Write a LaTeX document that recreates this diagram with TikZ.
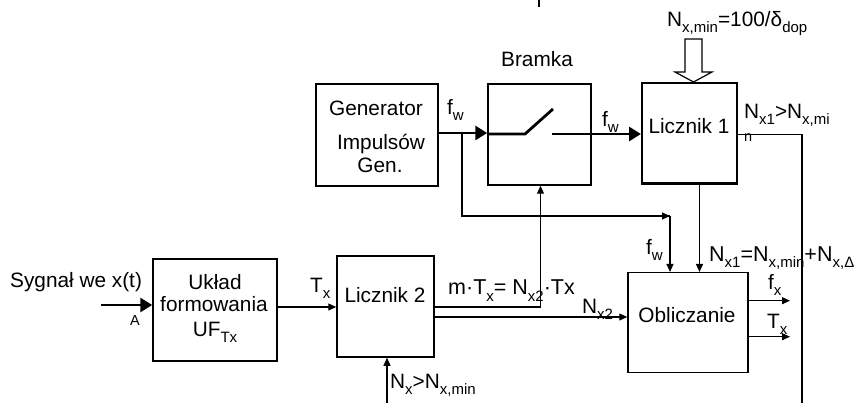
\documentclass[tikz,border=0pt]{standalone}
\usepackage{fontspec}
\setmainfont{Liberation Sans}
\usetikzlibrary{arrows.meta}
\newcommand{\sbx}[1]{\raisebox{-6pt}{\fontsize{15}{15}\selectfont #1}}
\begin{document}
\begin{tikzpicture}[x=1pt,y=-1pt,
  box/.style={draw,line width=1.5pt,rectangle,inner sep=0pt},
  txt/.style={inner sep=0pt,font=\fontsize{20.8}{22}\selectfont},
  stxt/.style={inner sep=0pt,font=\fontsize{14.5}{15}\selectfont},
  conn/.style={line width=1.1pt},
  tarr/.style={conn,-{Triangle[length=8pt,width=7pt]}},
  thk/.style={line width=2.8pt},
  bigarr/.style={thk,-{Triangle[length=12pt,width=14pt]}}]
\fill[white] (0,0) rectangle (862,403);
\useasboundingbox (0,0) rectangle (862,403);

% boxes
\node[box,minimum width=122pt,minimum height=102pt] (gen) at (377,135) {};
\node[box,minimum width=103pt,minimum height=101pt] (bram) at (539.5,134.5) {};
\node[box,line width=2pt,minimum width=95pt,minimum height=100pt] (l1) at (689.5,133) {};
\draw[line width=3pt] (l1.south west) -- (l1.south east);
\node[box,minimum width=124pt,minimum height=102pt] (ukl) at (215,310) {};
\node[box,minimum width=97pt,minimum height=101pt] (l2) at (385.5,306.5) {};
\node[box,minimum width=120pt,minimum height=100pt] (obl) at (688,322.7) {};

% box texts
\node[txt,anchor=base] (tgen1) at (376,116) {Generator};
\node[txt,anchor=base] (tgen2) at (381,150) {Impulsów};
\node[txt,anchor=base] (tgen3) at (380,172.5) {Gen.};
\node[txt,anchor=base] (tl1) at (689,134) {Licznik 1};
\node[txt,anchor=base] (tobl) at (687,323) {Obliczanie};
\node[txt,anchor=base] (tl2) at (385,303) {Licznik 2};
\node[txt,anchor=base] (tukl1) at (215,290) {Układ};
\node[txt,anchor=base] (tukl2) at (214,311.7) {formowania};
\node[txt,anchor=base] (tukl3) at (215,336) {UF\sbx{Tx}};

% labels
\node[txt,anchor=base] (lbram) at (537,67) {Bramka};
\node[txt,anchor=base west] (ltop) at (667,27) {N\sbx{x,min}=100/δ\sbx{dop}};
\node[txt,anchor=base west] (lfw1) at (447,115) {f\sbx{w}};
\node[txt,anchor=base west] (lfw2) at (602,127) {f\sbx{w}};
\node[txt,anchor=base west] (lnx1) at (744,118.3) {N\sbx{x1}>N\sbx{x,mi}};
\node[stxt,anchor=base west] (ln) at (744,142) {n};
\node[txt,anchor=base west] (lfw3) at (646,255) {f\sbx{w}};
\node[txt,anchor=base west,font=\fontsize{21.5}{22}\selectfont] (lnx1b) at (709,261.7) {N\sbx{x1}=N\sbx{x,min}+N\sbx{x,Δ}};
\node[txt,anchor=base west] (lfx) at (768,290) {f\sbx{x}};
\node[txt,anchor=base west] (ltx2) at (767,328) {T\sbx{x}};
\node[txt,anchor=base west,font=\fontsize{21.5}{22}\selectfont] (lm) at (448,295) {m·T\sbx{x}= N\sbx{x2}·Tx};
\node[txt,anchor=base west] (lnx2) at (582,313) {N\sbx{x2}};
\node[txt,anchor=base west] (lnxmin) at (390,388) {N\sbx{x}>N\sbx{x,min}};
\node[txt,anchor=base west] (ltx) at (310,293) {T\sbx{x}};
\node[txt,anchor=base west] (lsyg) at (10,288) {Sygnał we x(t)};
\node[stxt,anchor=base west] (la) at (130,325) {A};

% coordinates
\coordinate (fwy) at (0,133);
\coordinate (jn) at (462,133);
\coordinate (jd) at (462,216);
\coordinate (cr) at (670,216);
\coordinate (sw1) at (525,134);
\coordinate (sw2) at (553,109);
\coordinate (sw3) at (552,134);
\coordinate (rv) at (802,134.3);
\coordinate (rvb) at (802,403);
\coordinate (inA) at (101,305);
\coordinate (l2in) at (387,403);
\coordinate (bv) at (540.5,307);
\coordinate (mk1) at (539,0);
\coordinate (mk2) at (539,7);

% top fragment
\draw[line width=1.2pt] (mk1) -- (mk2);

% generator -> bramka
\draw[bigarr] (gen.east |- fwy) -- (bram.west |- fwy);
\draw[thk] (bram.west |- sw1) -- (sw1) -- (sw2);
\draw[bigarr] (sw3) -- (l1.west |- sw3);

% hollow arrow into Licznik 1
\draw[line width=1.2pt,fill=white] (685,39) -- (702,39) -- (702,72) -- (712,72) -- (693.5,82) -- (675,72) -- (685,72) -- cycle;

% fw branch
\draw[conn] (jn) -- (jd) -- (cr);
\draw[tarr] (jd) -- (cr);
\draw[tarr] (cr) -- (cr |- obl.north);

% Licznik 1 -> Obliczanie
\draw[tarr] ([xshift=10pt]l1.south) -- ([xshift=10pt]l1.south |- obl.north);

% Licznik 1 output
\draw[conn] (l1.east |- rv) -- (rv) -- (rvb);

% input
\draw[bigarr] (inA) -- (ukl.west |- inA);
\draw[tarr] (ukl.east |- 0,307) -- (l2.west |- 0,307);

% Licznik 2 outputs
\draw[tarr] (l2.east |- bv) -- (bv) -- (bv |- bram.south);
\draw[tarr] (l2.east |- 0,317) -- (obl.west |- 0,317);
\draw[tarr] (l2in) -- (l2in |- l2.south);

% Obliczanie outputs
\draw[tarr] (obl.east |- 0,300.7) -- (790,300.7);
\draw[tarr] (obl.east |- 0,336.7) -- (790,336.7);
\end{tikzpicture}
\end{document}
